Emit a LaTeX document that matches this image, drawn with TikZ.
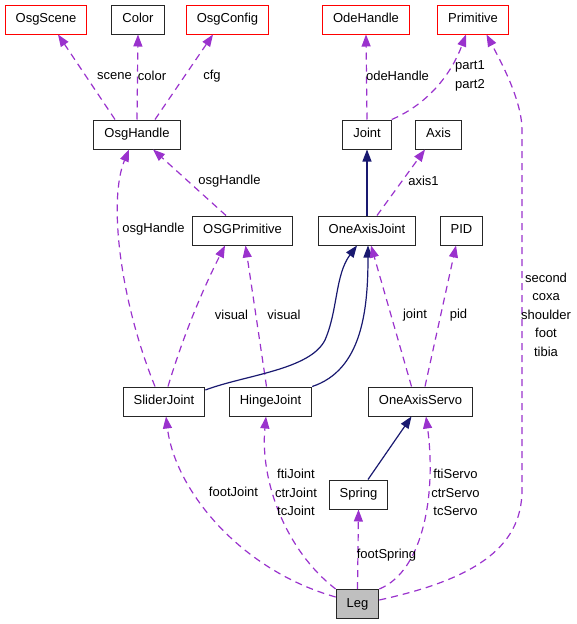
\documentclass[tikz,border=0pt]{standalone}
\usepackage{fontspec}
\setmainfont{Liberation Sans}
\usepackage{xcolor}
\usetikzlibrary{arrows.meta}
\definecolor{usecol}{HTML}{9A32CD}
\definecolor{inhcol}{HTML}{191970}
\definecolor{legfill}{HTML}{BFBFBF}
\tikzset{
  cls/.style={draw=black!85, line width=1pt, font=\fontsize{13}{18.5}\selectfont,
    inner xsep=10.5pt, inner ysep=0pt, text height=9.5pt, text depth=2.8pt, minimum height=29pt},
  ext/.style={cls, draw=red},
  lbl/.style={font=\fontsize{13}{18.5}\selectfont, inner sep=0pt, align=center},
  uses/.style={draw=usecol, line width=1.2pt, dash pattern=on 7pt off 5pt,
    -{Triangle[length=12pt,width=9pt,fill=usecol]}},
  inherit/.style={draw=inhcol, line width=1.2pt,
    -{Triangle[length=12pt,width=9pt,fill=inhcol]}}
}
\begin{document}
\begin{tikzpicture}[x=1pt,y=-1pt]
  \useasboundingbox (0,0) rectangle (576,624);
  \node[ext] (OsgScene) at (46,19.5) {OsgScene};
  \node[cls] (Color) at (138,19.5) {Color};
  \node[ext] (OsgConfig) at (227.5,19.5) {OsgConfig};
  \node[ext] (OdeHandle) at (366,19.5) {OdeHandle};
  \node[ext] (Primitive) at (473,19.5) {Primitive};
  \node[cls] (OsgHandle) at (137,134.5) {OsgHandle};
  \node[cls] (Joint) at (367,134.5) {Joint};
  \node[cls] (Axis) at (438.5,134.5) {Axis};
  \node[cls] (OSGPrimitive) at (242.5,230.5) {OSGPrimitive};
  \node[cls] (OneAxisJoint) at (367,230.5) {OneAxisJoint};
  \node[cls] (PID) at (461.5,230.5) {PID};
  \node[cls] (SliderJoint) at (164,401.5) {SliderJoint};
  \node[cls] (HingeJoint) at (270.5,401.5) {HingeJoint};
  \node[cls] (OneAxisServo) at (420.5,401.5) {OneAxisServo};
  \node[cls] (Spring) at (358.5,494.5) {Spring};
  \node[cls, fill=legfill] (Leg) at (357.5,604) {Leg};

  \draw[uses] ([xshift=-22pt]OsgHandle.north) -- ([xshift=12pt]OsgScene.south);
  \draw[uses] (OsgHandle.north) -- (Color.south);
  \draw[uses] ([xshift=18pt]OsgHandle.north) -- ([xshift=-14.5pt]OsgConfig.south);
  \draw[uses] (Joint.north) -- (OdeHandle.south);
  \draw[uses] (Joint.north east) .. controls (430,103) and (452,72) .. ([xshift=-7pt]Primitive.south);
  \draw[inherit] (OneAxisJoint.north) -- (Joint.south);
  \draw[uses] ([xshift=10pt]OneAxisJoint.north) -- ([xshift=-13.5pt]Axis.south);
  \draw[uses] ([xshift=-16.5pt]OSGPrimitive.north) -- ([xshift=16pt]OsgHandle.south);
  \draw[uses] ([xshift=-9pt]SliderJoint.north) .. controls (120,300) and (108,200) .. ([xshift=-8pt]OsgHandle.south);
  \draw[uses] ([xshift=4pt]SliderJoint.north) .. controls (185,330) and (205,285) .. ([xshift=-17.5pt]OSGPrimitive.south);
  \draw[uses] ([xshift=-4pt]HingeJoint.north) -- ([xshift=3pt]OSGPrimitive.south);
  \draw[inherit] ([yshift=11.5pt]SliderJoint.east) .. controls (245,375) and (310,370) .. (325,340)
    .. controls (338,310) and (335,275) .. ([xshift=-10pt]OneAxisJoint.south);
  \draw[inherit] (HingeJoint.north east) .. controls (362,370) and (368,310) .. ([xshift=1pt]OneAxisJoint.south);
  \draw[uses] ([xshift=-9pt]OneAxisServo.north) -- ([xshift=4pt]OneAxisJoint.south);
  \draw[uses] ([xshift=4.5pt]OneAxisServo.north) -- ([xshift=-5.5pt]PID.south);
  \draw[inherit] ([xshift=9.5pt]Spring.north) -- ([xshift=-9pt]OneAxisServo.south);
  \draw[uses] ([yshift=7pt]Leg.west) .. controls (240,570) and (175,490) .. ([xshift=2pt]SliderJoint.south);
  \draw[uses] (Leg.north west) .. controls (285,550) and (260,480) .. ([xshift=-4.5pt]HingeJoint.south);
  \draw[uses] (Leg.north) -- (Spring.south);
  \draw[uses] (Leg.north east) .. controls (425,570) and (436,490) .. ([xshift=5.5pt]OneAxisServo.south);
  \draw[uses] ([yshift=4pt]Leg.east) .. controls (470,580) and (522,550) .. (522,490) -- (522,130)
    .. controls (522,100) and (500,60) .. ([xshift=13.5pt]Primitive.south);

  \node[lbl] (lscene) at (114.5,76) {scene};
  \node[lbl] (lcolor) at (152,76) {color};
  \node[lbl] (lcfg) at (212,76) {cfg};
  \node[lbl] (lode) at (397.5,76) {odeHandle};
  \node[lbl, align=left] (lpart) at (470,76) {part1\\part2};
  \node[lbl] (laxis) at (423.5,181) {axis1};
  \node[lbl] (losgprim) at (229.5,181) {osgHandle};
  \node[lbl] (losgslider) at (153.5,229) {osgHandle};
  \node[lbl] (lvisslider) at (231.5,315) {visual};
  \node[lbl] (lvishinge) at (284,315) {visual};
  \node[lbl] (ljoint) at (415,315) {joint};
  \node[lbl] (lpid) at (458.5,315) {pid};
  \node[lbl] (lfoot) at (233.5,492) {footJoint};
  \node[lbl] (ljoints) at (296,492.7) {ftiJoint\\ctrJoint\\tcJoint};
  \node[lbl] (lspring) at (386.5,555) {footSpring};
  \node[lbl] (lservos) at (455.5,492.7) {ftiServo\\ctrServo\\tcServo};
  \node[lbl] (lprim) at (546,314.5) {second\\coxa\\shoulder\\foot\\tibia};
\end{tikzpicture}
\end{document}
